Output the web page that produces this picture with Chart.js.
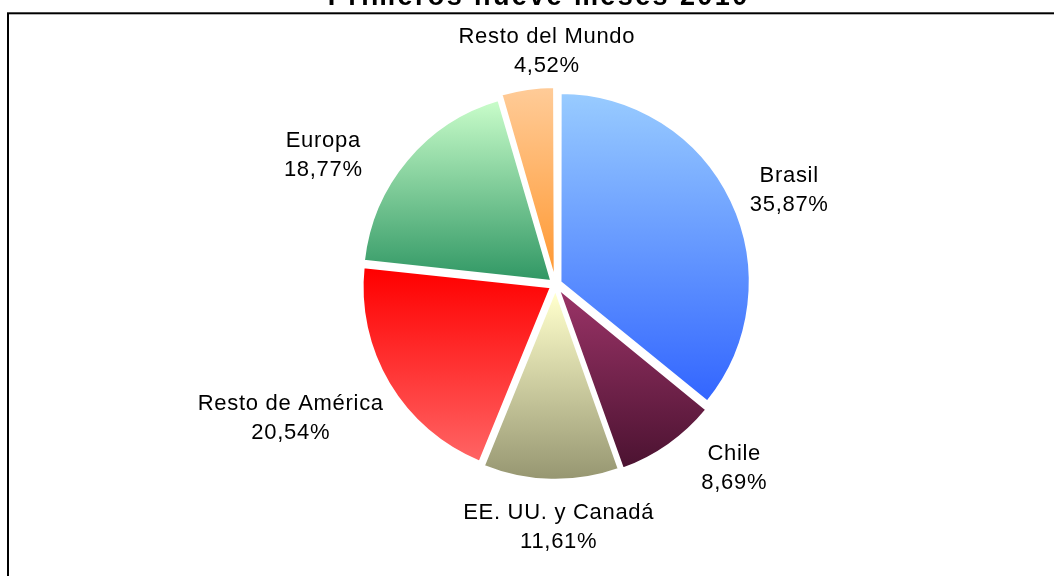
<!DOCTYPE html>
<html>
<head>
<meta charset="utf-8">
<script src="https://cdn.jsdelivr.net/npm/chart.js@4.4.1/dist/chart.umd.min.js"></script>
<style>
html, body { margin: 0; padding: 0; background: #fff; overflow: hidden; }
canvas { display: block; }
</style>
</head>
<body>
<canvas id="chart" width="1054" height="576"></canvas>
<script>
// data
const chartTitle = 'Primeros nueve meses 2010';
const regions = ['Brasil', 'Chile', 'EE. UU. y Canadá', 'Resto de América', 'Europa', 'Resto del Mundo'];
const shares = [35.87, 8.69, 11.61, 20.54, 18.77, 4.52];

// gradient colours, top -> bottom of each slice
const topColors = ['#99ccff', '#993366', '#ffffcc', '#ff0000', '#ccffcc', '#ffcc99'];
const bottomColors = ['#3366ff', '#4a1230', '#94946f', '#ff6666', '#339966', '#ff9933'];

// small hand nudges for label boxes (px)
const labelShift = [[3, 11], [35, -17], [10, -3], [0, 7], [-37, 28], [34, 10]];

const SLICE_OFFSET = 22;   // chart.js moves a slice offset/4 px
const LABEL_PAD = 28;
const LS = 0.7;            // letter spacing of the labels

function pct(v) {
    return v.toFixed(2).replace('.', ',') + '%';
}

function sliceFill(c) {
    var chart = c.chart, i = c.dataIndex;
    var area = chart.chartArea;
    var ctrl = chart.getDatasetMeta(0).controller;
    var r = ctrl && ctrl.outerRadius;
    if (!area || !r || i === undefined) return topColors[i || 0];
    var total = shares.reduce((a, b) => a + b, 0);
    var before = 0;
    for (var k = 0; k < i; k++) before += shares[k];
    var a0 = -Math.PI / 2 + 2 * Math.PI * before / total;
    var a1 = a0 + 2 * Math.PI * shares[i] / total;
    var mid = (a0 + a1) / 2;
    var cy = (area.top + area.bottom) / 2 + Math.sin(mid) * SLICE_OFFSET / 4;
    var ys = [0, r * Math.sin(a0), r * Math.sin(a1)];
    if (a0 < Math.PI / 2 && a1 > Math.PI / 2) ys.push(r);
    if (a0 <= -Math.PI / 2 + 1e-9 || a1 >= 3 * Math.PI / 2 - 1e-9) ys.push(-r);
    var g = chart.ctx.createLinearGradient(0, cy + Math.min(...ys), 0, cy + Math.max(...ys));
    g.addColorStop(0, topColors[i]);
    g.addColorStop(1, bottomColors[i]);
    return g;
}

const framePlugin = {
    id: 'frame',
    beforeDraw(chart) {
        const ctx = chart.ctx;
        ctx.save();
        ctx.fillStyle = '#fff';
        ctx.fillRect(0, 0, chart.width, chart.height);
        ctx.strokeStyle = '#000';
        ctx.lineWidth = 2;
        ctx.strokeRect(8, 13.3, chart.width + 20, chart.height + 20);
        // title, cut by the top of the picture
        ctx.font = 'bold 27px "Liberation Sans", Arial, sans-serif';
        ctx.letterSpacing = '2.4px';
        ctx.fillStyle = '#000';
        ctx.textBaseline = 'alphabetic';
        const tw = ctx.measureText(chartTitle).width - 2.4;
        ctx.fillText(chartTitle, 537.5 - tw / 2, 5);
        ctx.restore();
    }
};

const labelPlugin = {
    id: 'sliceLabels',
    afterDatasetsDraw(chart) {
        const ctx = chart.ctx;
        const area = chart.chartArea;
        const cx = (area.left + area.right) / 2, cy = (area.top + area.bottom) / 2;
        const meta = chart.getDatasetMeta(0);
        ctx.save();
        ctx.font = '22px "Liberation Sans", Arial, sans-serif';
        ctx.letterSpacing = LS + 'px';
        ctx.fillStyle = '#000';
        ctx.textBaseline = 'alphabetic';
        meta.data.forEach((arc, i) => {
            const lines = [regions[i], pct(shares[i])];
            const w = Math.max(...lines.map(t => ctx.measureText(t).width - LS));
            const mid = (arc.startAngle + arc.endAngle) / 2;
            const cos = Math.cos(mid), sin = Math.sin(mid);
            const d = arc.outerRadius + LABEL_PAD;
            const x = cx + d * cos + cos * w / 2 + labelShift[i][0];
            const y = cy + d * sin + sin * 30 + labelShift[i][1];
            lines.forEach((t, j) => {
                const tw = ctx.measureText(t).width - LS;
                ctx.fillText(t, x - tw / 2, y + (j === 0 ? -8 : 21));
            });
        });
        ctx.restore();
    }
};

new Chart(document.getElementById('chart'), {
    type: 'pie',
    data: {
        labels: regions,
        datasets: [{
            data: shares,
            backgroundColor: sliceFill,
            borderColor: '#fff',
            borderWidth: 2,
            offset: SLICE_OFFSET,
            radius: 188
        }]
    },
    options: {
        responsive: false,
        animation: false,
        layout: { padding: { left: 57, right: 0, top: 0, bottom: 7 } },
        plugins: {
            legend: { display: false },
            tooltip: { enabled: false },
            title: { display: false }
        }
    },
    plugins: [framePlugin, labelPlugin]
});
</script>
</body>
</html>
